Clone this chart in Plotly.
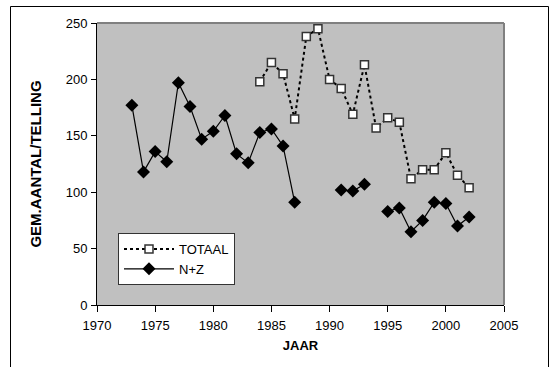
import plotly.graph_objects as go

years_nz = [1973, 1974, 1975, 1976, 1977, 1978, 1979, 1980, 1981, 1982, 1983, 1984, 1985, 1986, 1987,
            1988, 1989, 1990, 1991, 1992, 1993, 1994, 1995, 1996, 1997, 1998, 1999, 2000, 2001, 2002]
values_nz = [177, 118, 136, 127, 197, 176, 147, 154, 168, 134, 126, 153, 156, 141, 91,
             None, None, None, 102, 101, 107, None, 83, 86, 65, 75, 91, 90, 70, 78]

years_tot = [1984, 1985, 1986, 1987, 1988, 1989, 1990, 1991, 1992, 1993, 1994, 1995, 1996,
             1997, 1998, 1999, 2000, 2001, 2002]
values_tot = [198, 215, 205, 165, 238, 245, 200, 192, 169, 213, 157, 166, 162,
              112, 120, 120, 135, 115, 104]

x_ticks = [1970, 1975, 1980, 1985, 1990, 1995, 2000, 2005]
y_ticks = [0, 50, 100, 150, 200, 250]

FONT = "Liberation Sans, Arial, sans-serif"

fig = go.Figure()
fig.add_trace(go.Scatter(
    x=years_tot, y=values_tot, name="TOTAAL", mode="lines+markers",
    line=dict(color="black", width=2, dash="dot"),
    marker=dict(symbol="square", size=8, color="white", line=dict(color="#333333", width=1.5)),
))
fig.add_trace(go.Scatter(
    x=years_nz, y=values_nz, name="N+Z", mode="lines+markers", connectgaps=False,
    line=dict(color="black", width=1.2),
    marker=dict(symbol="diamond", size=10, color="black"),
))

L, R, T, B = 97, 504, 23, 305
W, H = 555, 367
pw, ph = R - L, B - T

def px(xp):
    return (xp - L) / pw

def py(yp):
    return (B - yp) / ph

fig.update_layout(
    width=W, height=H,
    margin=dict(l=L, r=W - R, t=T, b=H - B, pad=0),
    paper_bgcolor="white", plot_bgcolor="#c0c0c0",
    font=dict(family=FONT, size=13, color="black"),
    showlegend=True,
    legend=dict(
        x=px(118), y=py(233), xanchor="left", yanchor="top",
        bgcolor="white", bordercolor="#333333", borderwidth=1,
        font=dict(family=FONT, size=13, color="black"),
        itemwidth=50, tracegroupgap=0,
    ),
    xaxis=dict(
        range=[1970, 2005], tickvals=x_ticks, ticktext=[str(v) for v in x_ticks],
        showgrid=False, zeroline=False, showline=True, linecolor="black", linewidth=1,
        ticks="outside", ticklen=6, tickcolor="black", ticklabelstandoff=2,
        title=dict(text="JAAR", font=dict(family=FONT, size=13, weight="bold"), standoff=9),
        fixedrange=True,
    ),
    yaxis=dict(
        range=[0, 250], tickvals=y_ticks, ticktext=[str(v) for v in y_ticks],
        showgrid=False, zeroline=False, showline=True, linecolor="black", linewidth=1,
        ticks="outside", ticklen=5, tickcolor="black", ticklabelstandoff=1,
        title=dict(text="GEM.AANTAL/TELLING", font=dict(family=FONT, size=15, weight="bold"), standoff=20),
        fixedrange=True,
    ),
    shapes=[
        dict(type="line", xref="paper", yref="paper", x0=0, x1=1, y0=1, y1=1,
             line=dict(color="#808080", width=2)),
        dict(type="line", xref="paper", yref="paper", x0=1, x1=1, y0=0, y1=1,
             line=dict(color="#808080", width=2)),
        dict(type="rect", xref="paper", yref="paper", x0=px(10.5), x1=px(548.5), y0=py(H + 10), y1=py(6.5),
             line=dict(color="black", width=1), fillcolor="rgba(0,0,0,0)"),
    ],
)

fig.write_html(
    "out.html",
    config={"displayModeBar": False},
    post_script="document.body.style.margin='0';document.body.style.overflow='hidden';",
)
